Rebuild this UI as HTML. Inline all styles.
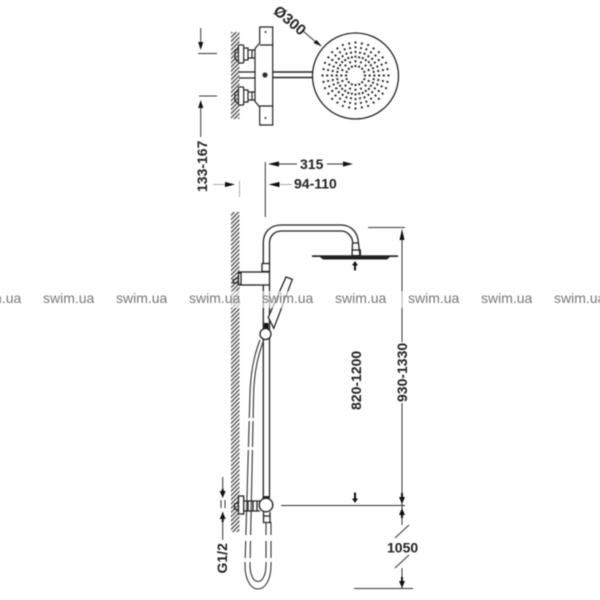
<!DOCTYPE html>
<html><head><meta charset="utf-8">
<style>
html,body{margin:0;padding:0;background:#fff;width:600px;height:600px;overflow:hidden}
svg{display:block;filter:blur(.4px)}
text{font-family:"Liberation Sans",sans-serif}
.d{font-weight:bold;font-size:14px;fill:#222}
.w{font-size:14px;fill:#777}
</style></head>
<body>
<svg width="600" height="600" viewBox="0 0 600 600" xmlns="http://www.w3.org/2000/svg">
<defs>
<pattern id="h" width="3" height="3" patternUnits="userSpaceOnUse" patternTransform="rotate(45)">
<rect width="1.400" height="3" fill="#555"/>
</pattern>
<line id="a" x1="364" y1="75.500" x2="390" y2="75.500"/>
<line id="b" x1="373" y1="75.500" x2="390" y2="75.500"/>
</defs>
<rect width="600" height="600" fill="#fff"/>

<!-- walls -->
<rect x="231" y="32" width="8.500" height="87" fill="url(#h)"/>
<rect x="231" y="212" width="8.500" height="320" fill="url(#h)"/>

<g fill="none" stroke="#222" stroke-width="1.200">
<!-- top unit -->
<path d="M259.700 27h13v98h-13v-18l-4.700-5.500v-53l4.700-5.500z" fill="#fff"/>
<path d="M259.700 45h13M259.700 106h13"/>
<rect x="238.500" y="45" width="5.200" height="18" rx="1" fill="#fff"/>
<rect x="238.500" y="87" width="5.200" height="18" rx="1" fill="#fff"/>
<path d="M243.700 48h4.300v12h-4.300M243.700 90h4.300v12h-4.300"/>
<path d="M248 50h7M248 58h7M252 50v8M248 92h7M248 100h7M252 92v8"/>
<path d="M238 49l-3 2v8l3 2M238 91l-3 2v8l3 2"/>
<path d="M239 72h16M239 78h16"/>
<path d="M272.700 72h40.500M272.700 77.500h40.500" stroke-width="1.400"/>
<!-- head circle -->
<circle cx="355.500" cy="76" r="43" stroke-width="1.300" fill="#fff"/>
</g>
<circle cx="265" cy="75" r="2.600" fill="#333"/>
<circle cx="265.500" cy="32" r="1" fill="#333"/>
<circle cx="265.500" cy="118" r="1" fill="#333"/>
<g fill="none" stroke="#222" stroke-width="1.900" stroke-dasharray="2 2.700">
<use href="#a" transform="rotate(0 355.500 75.500)"/>
<use href="#b" transform="rotate(11.250 355.500 75.500)"/>
<use href="#a" transform="rotate(22.500 355.500 75.500)"/>
<use href="#b" transform="rotate(33.750 355.500 75.500)"/>
<use href="#a" transform="rotate(45 355.500 75.500)"/>
<use href="#b" transform="rotate(56.250 355.500 75.500)"/>
<use href="#a" transform="rotate(67.500 355.500 75.500)"/>
<use href="#b" transform="rotate(78.750 355.500 75.500)"/>
<use href="#a" transform="rotate(90 355.500 75.500)"/>
<use href="#b" transform="rotate(101.250 355.500 75.500)"/>
<use href="#a" transform="rotate(112.500 355.500 75.500)"/>
<use href="#b" transform="rotate(123.750 355.500 75.500)"/>
<use href="#a" transform="rotate(135 355.500 75.500)"/>
<use href="#b" transform="rotate(146.250 355.500 75.500)"/>
<use href="#a" transform="rotate(157.500 355.500 75.500)"/>
<use href="#b" transform="rotate(168.750 355.500 75.500)"/>
<use href="#a" transform="rotate(180 355.500 75.500)"/>
<use href="#b" transform="rotate(191.250 355.500 75.500)"/>
<use href="#a" transform="rotate(202.500 355.500 75.500)"/>
<use href="#b" transform="rotate(213.750 355.500 75.500)"/>
<use href="#a" transform="rotate(225 355.500 75.500)"/>
<use href="#b" transform="rotate(236.250 355.500 75.500)"/>
<use href="#a" transform="rotate(247.500 355.500 75.500)"/>
<use href="#b" transform="rotate(258.750 355.500 75.500)"/>
<use href="#a" transform="rotate(270 355.500 75.500)"/>
<use href="#b" transform="rotate(281.250 355.500 75.500)"/>
<use href="#a" transform="rotate(292.500 355.500 75.500)"/>
<use href="#b" transform="rotate(303.750 355.500 75.500)"/>
<use href="#a" transform="rotate(315 355.500 75.500)"/>
<use href="#b" transform="rotate(326.250 355.500 75.500)"/>
<use href="#a" transform="rotate(337.500 355.500 75.500)"/>
<use href="#b" transform="rotate(348.750 355.500 75.500)"/>
</g>

<!-- top dims -->
<g fill="none" stroke="#333" stroke-width="1">
<path d="M200.700 28v14M198 53.500h19M199 96h18M200.700 108v29"/>
<path d="M265.300 162v55"/>
<path d="M279 164h18M327 164h17"/>
<path d="M280 184.500h12M213 184.500h12" stroke="#aaa"/>
<path d="M239.500 181v16" stroke="#aaa"/>
<path d="M303 31l14 12"/>
</g>
<path d="M322 46.500l-8.500-3.500 3-3z" fill="#111"/>
<g fill="#111">
<path d="M200.700 50l-2.600-8h5.200z"/>
<path d="M200.700 100l-2.600 8h5.200z"/>
<path d="M268 164l11-2.600v5.200z"/>
<path d="M353 164l-10-2.600v5.200z"/>
<path d="M268.500 184.500l11-2.600v5.200z"/>
<path d="M235 184.500l-10-2.600v5.200z"/>
</g>

<text class="d" x="300" y="169">315</text>
<text class="d" x="294" y="188.500">94-110</text>
<text class="d" transform="translate(207,192) rotate(-90)">133-167</text>
<text class="d" style="font-size:15px" transform="translate(272.500,12.500) rotate(40)">Ø300</text>

<!-- shower -->
<g fill="none" stroke="#222" stroke-width="1.300">
<path d="M263.300 498V243c0-11 7-18 18-18h60c10 0 17 8 17 18"/>
<path d="M269.500 264V243c0-7 5-12 12-12h60c6 0 11.200 6 11.200 12"/>
<path d="M269.500 285V498"/>
<path d="M352.500 243h6M352 250h8.500M352.500 243l-.5 13M358.500 243l1.500 13"/>
<rect x="262" y="263.500" width="7.500" height="8" fill="#fff"/>
<rect x="239.500" y="272" width="30" height="13" fill="#fff"/>
<rect x="238.500" y="273" width="2.500" height="11.500" fill="#fff"/>
<path d="M238 278l-5 2 .5 3h4.500"/>
<path d="M286 277l6.300 2.300-18.500 49-5.500-11z" fill="#fff"/>
<path d="M264.500 323v7h3.500v-7" fill="#111"/>
</g>
<!-- hose -->
<g fill="none" stroke="#333" stroke-width="1.100">
<path d="M260 340c-6 15-10 35-10.200 60L245 565c0 32 26 32 26 0v-43"/>
<path d="M263 342c-6 16-9.500 36-9.500 58L250 565c0 22 16 22 16 0v-43"/>
</g>
<g fill="#fff">
<rect x="243" y="535" width="12" height="6"/>
<rect x="264" y="535" width="9" height="6"/>
<rect x="243" y="558" width="9" height="4"/>
<rect x="264" y="558" width="9" height="4"/>
<rect x="246" y="418" width="10" height="3"/>
<rect x="246" y="447" width="10" height="3"/>
</g>
<!-- valve -->
<g fill="none" stroke="#222" stroke-width="1.300">
<rect x="238.500" y="496" width="5.200" height="18" fill="#fff"/>
<path d="M238.500 503l-4 1v5l4 1"/>
<path d="M243.700 501h16.300M243.700 511h16.300M248 501v10M253 501v10M257 501v10"/>
<path d="M263.500 512v10.500h6.500v-10.500M263.500 516h6.500"/>
</g>
<rect x="312" y="255.300" width="86" height="1.700" fill="#222"/>
<path d="M320 257h70l-3 2.500h-64z" fill="#222"/>
<rect x="352" y="250" width="8.500" height="5.500" fill="none" stroke="#222"/>
<circle cx="265.500" cy="334" r="5.500" fill="#fff" stroke="#222" stroke-width="1.300"/>
<circle cx="266" cy="505" r="6.800" fill="#fff" stroke="#222" stroke-width="1.400"/>
<path d="M262 498h8l-1.500-2h-5z" fill="#222"/>

<!-- right dims -->
<g fill="none" stroke="#333" stroke-width="1">
<path d="M368 227.500h37"/>
<path d="M402 230v112M402 403v122M402 568v20"/>
<path d="M281 505.500h124"/>
<path d="M395 538l14-13M395 568l14-13"/>
<path d="M354 588.500h59"/>
<path d="M222.700 477v20M222.700 512v28"/>
<path d="M221 500v8M225 500v8"/>
</g>
<g fill="#111">
<path d="M402 229l-2.500 11h5z"/>
<path d="M355 261l-3 4.500h2v5h2v-5h2z"/>
<path d="M355 503l-3-4.500h2v-6h2v6h2z"/>
<path d="M402 504l-3-7h2v-4h2v4h2z"/>
<path d="M402 508l-3 7h2v3h2v-3h2z"/>
<path d="M402 588l-3-7h2v-4h2v4h2z"/>
<path d="M222.700 498l-3-7h2v-2h2v2h2z"/>
<path d="M222.700 512l-3 7h2v3h2v-3h2z"/>
</g>

<text class="d" transform="translate(407,402) rotate(-90)">930-1330</text>
<text class="d" transform="translate(361,410) rotate(-90)">820-1200</text>
<text class="d" x="387" y="552.500">1050</text>
<text class="d" transform="translate(227,573.500) rotate(-90)">G1/2</text>

<!-- watermark -->
<rect x="0" y="291" width="600" height="17" fill="#fff" fill-opacity=".6"/>
<text class="w" x="-30" y="303">swim.ua</text>
<text class="w" x="43" y="303">swim.ua</text>
<text class="w" x="116" y="303">swim.ua</text>
<text class="w" x="189" y="303">swim.ua</text>
<text class="w" x="262" y="303">swim.ua</text>
<text class="w" x="335" y="303">swim.ua</text>
<text class="w" x="408" y="303">swim.ua</text>
<text class="w" x="481" y="303">swim.ua</text>
<text class="w" x="554" y="303">swim.ua</text>
</svg>
</body></html>
